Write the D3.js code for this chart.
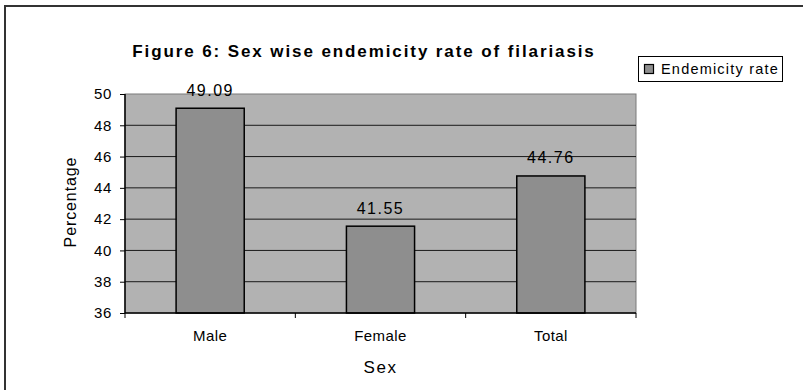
<!DOCTYPE html>
<html>
<head>
<meta charset="utf-8">
<script src="https://cdn.jsdelivr.net/npm/d3@7"></script>
<style>
  html, body { margin: 0; padding: 0; background: #fff; }
  svg { display: block; font-family: Arial, "Liberation Sans", sans-serif; }
</style>
</head>
<body>
<svg id="chart" width="803" height="390"></svg>
<script>
// Chart data
const categories = ["Male", "Female", "Total"];
const endemicityRate = [49.09, 41.55, 44.76];
const yTicks = [36, 38, 40, 42, 44, 46, 48, 50];
const seriesName = "Endemicity rate";
const titleText = "Figure 6: Sex wise endemicity rate of filariasis";
const xTitle = "Sex";
const yTitle = "Percentage";

const svg = d3.select("#chart");

// Outer chart frame
svg.append("rect")
  .attr("x", 5).attr("y", 6)
  .attr("width", 800).attr("height", 392)
  .attr("fill", "none")
  .attr("stroke", "#333")
  .attr("stroke-width", 2);

// Plot area
const plot = { left: 125, top: 94, right: 636, bottom: 313 };

const x = d3.scaleBand()
  .domain(categories)
  .range([plot.left, plot.right])
  .paddingInner(0.6)
  .paddingOuter(0.3);

const y = d3.scaleLinear()
  .domain([36, 50])
  .range([plot.bottom, plot.top]);

svg.append("rect")
  .attr("x", plot.left).attr("y", plot.top)
  .attr("width", plot.right - plot.left)
  .attr("height", plot.bottom - plot.top)
  .attr("fill", "#b2b2b2")
  .attr("stroke", "#7a7a7a")
  .attr("stroke-width", 1);

// Horizontal gridlines
svg.append("g")
  .selectAll("line")
  .data(yTicks.filter(t => t > 36 && t < 50))
  .join("line")
  .attr("x1", plot.left).attr("x2", plot.right)
  .attr("y1", d => y(d)).attr("y2", d => y(d))
  .attr("stroke", "#1a1a1a")
  .attr("stroke-width", 1);

// Bars
svg.append("g")
  .selectAll("rect")
  .data(categories)
  .join("rect")
  .attr("x", d => x(d))
  .attr("y", (d, i) => y(endemicityRate[i]))
  .attr("width", x.bandwidth())
  .attr("height", (d, i) => plot.bottom - y(endemicityRate[i]))
  .attr("fill", "#8e8e8e")
  .attr("stroke", "#000")
  .attr("stroke-width", 1.5);

// Value labels
svg.append("g")
  .selectAll("text")
  .data(categories)
  .join("text")
  .attr("x", d => x(d) + x.bandwidth() / 2)
  .attr("y", (d, i) => y(endemicityRate[i]) - 12.5)
  .attr("text-anchor", "middle")
  .attr("font-size", 16)
  .attr("letter-spacing", 1.5)
  .attr("fill", "#000")
  .text((d, i) => endemicityRate[i].toFixed(2));

// Y axis
const yAxis = d3.axisLeft(y)
  .tickValues(yTicks)
  .tickSize(5)
  .tickPadding(8)
  .tickFormat(d3.format("d"));

const yG = svg.append("g")
  .attr("transform", `translate(${plot.left},0)`)
  .call(yAxis);
yG.select(".domain").attr("stroke", "#000").attr("stroke-width", 1.5).attr("d", `M0,${plot.top}V${plot.bottom}`);
yG.selectAll(".tick line").attr("stroke", "#000");
yG.selectAll(".tick text")
  .attr("font-size", 15)
  .attr("letter-spacing", 0.6)
  .attr("font-family", "Arial, 'Liberation Sans', sans-serif")
  .attr("fill", "#000");

// X axis: ticks sit on category boundaries
const step = x.step();
const boundaries = [0, 1, 2, 3].map(i => plot.left + i * step);
svg.append("line")
  .attr("x1", plot.left).attr("x2", plot.right)
  .attr("y1", plot.bottom).attr("y2", plot.bottom)
  .attr("stroke", "#000").attr("stroke-width", 1.5);
svg.append("g")
  .selectAll("line")
  .data(boundaries)
  .join("line")
  .attr("x1", d => d).attr("x2", d => d)
  .attr("y1", plot.bottom).attr("y2", plot.bottom + 5)
  .attr("stroke", "#000");

svg.append("g")
  .selectAll("text")
  .data(categories)
  .join("text")
  .attr("x", d => x(d) + x.bandwidth() / 2)
  .attr("y", 341)
  .attr("text-anchor", "middle")
  .attr("font-size", 15)
  .attr("letter-spacing", 0.4)
  .attr("fill", "#000")
  .text(d => d);

// Axis titles
svg.append("text")
  .attr("x", (plot.left + plot.right) / 2)
  .attr("y", 373)
  .attr("text-anchor", "middle")
  .attr("font-size", 17)
  .attr("letter-spacing", 1.5)
  .attr("fill", "#000")
  .text(xTitle);

svg.append("text")
  .attr("transform", `translate(76,202) rotate(-90)`)
  .attr("text-anchor", "middle")
  .attr("font-size", 16)
  .attr("letter-spacing", 0.9)
  .attr("fill", "#000")
  .text(yTitle);

// Chart title
svg.append("text")
  .attr("x", 364)
  .attr("y", 56.5)
  .attr("text-anchor", "middle")
  .attr("font-size", 17)
  .attr("font-weight", "bold")
  .attr("letter-spacing", 1.9)
  .attr("fill", "#000")
  .text(titleText);

// Legend
const legend = svg.append("g");
legend.append("rect")
  .attr("x", 638.5).attr("y", 56.5)
  .attr("width", 144).attr("height", 25)
  .attr("fill", "#fff")
  .attr("stroke", "#000")
  .attr("stroke-width", 1);
legend.append("rect")
  .attr("x", 644.5).attr("y", 64.5)
  .attr("width", 9).attr("height", 9)
  .attr("fill", "#8e8e8e")
  .attr("stroke", "#000")
  .attr("stroke-width", 1.2);
legend.append("text")
  .attr("x", 661)
  .attr("y", 74)
  .attr("font-size", 14.5)
  .attr("letter-spacing", 1.2)
  .attr("fill", "#000")
  .text(seriesName);
</script>
</body>
</html>
